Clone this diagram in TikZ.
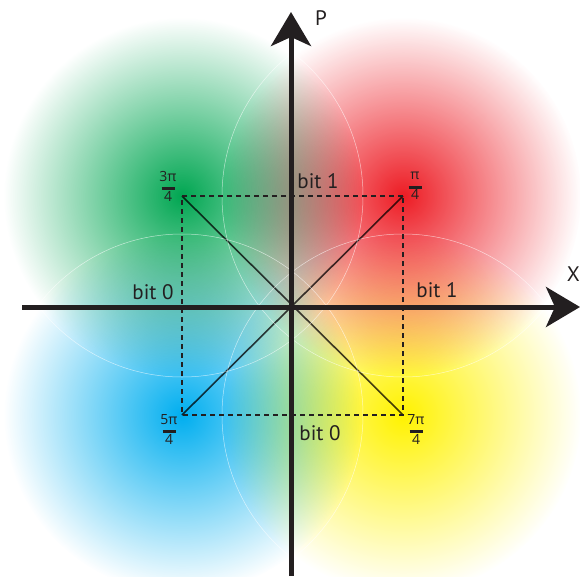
\documentclass[tikz,border=0pt]{standalone}
\usepackage{fontspec}
\setmainfont{PT Sans}
\newfontfamily\grk{Open Sans}
\usetikzlibrary{arrows.meta,fadings,positioning}

\tikzfading[name=blobfade, inner color=transparent!0, outer color=transparent!100]

\definecolor{ink}{HTML}{231F20}
\definecolor{cgreen}{HTML}{00A651}
\definecolor{cred}{HTML}{ED1C24}
\definecolor{cblue}{HTML}{00AEEF}
\definecolor{cyellow}{HTML}{FFF200}

\tikzset{
  axis/.style={line width=5pt, ink, -{Stealth[length=34pt,width=40pt,inset=9pt]}},
  gridline/.style={line width=2.2pt, ink, dash pattern=on 5pt off 4pt},
  diagline/.style={line width=1.6pt, ink!85},
  ring/.style={white, line width=0.5pt, opacity=0.6},
  bitlabel/.style={font=\fontsize{21}{23}\selectfont, text=ink, inner sep=0pt},
  phase/.style={font=\grk\fontsize{14}{14}\selectfont, text=ink, align=center, inner sep=0pt},
}
\newcommand{\phasefrac}[1]{#1\\[-5pt]\rule{13pt}{3pt}\\[-3pt]4}

\begin{document}
\begin{tikzpicture}[x=1pt,y=-1pt]
  \useasboundingbox (0,0) rectangle (580,576);

  \coordinate (o) at (291,307);
  \coordinate (q1) at (403,196);
  \coordinate (q2) at (182,196);
  \coordinate (q3) at (182,415);
  \coordinate (q4) at (403,415);

  % diagonals, under the colours
  \draw[diagline] (q1) -- (q3);
  \draw[diagline] (q2) -- (q4);

  % coloured clouds
  \begin{scope}[blend mode=multiply]
    \fill[cgreen, path fading=blobfade] (q2) circle (178);
    \fill[cred, path fading=blobfade] (q1) circle (178);
    \fill[cblue, path fading=blobfade] (q3) circle (178);
    \fill[cyellow, path fading=blobfade] (q4) circle (178);
  \end{scope}

  \draw[ring] (q1) circle (181);
  \draw[ring] (q2) circle (181);
  \draw[ring] (q3) circle (181);
  \draw[ring] (q4) circle (181);

  \draw[gridline] (q1) -- (q2) -- (q3) -- (q4) -- cycle;

  % axes
  \coordinate (xl) at (22,307);
  \coordinate (xr) at (580,307);
  \coordinate (yb) at (291,576);
  \coordinate (yt) at (291,12);
  \draw[axis] (xl) -- (xr);
  \draw[axis] (yb) -- (yt);
  \node[bitlabel] (P) at (321,18) {P};
  \node[bitlabel, anchor=east] (X) at (580,274) {X};

  \node[bitlabel] (bittop) at (318,181) {bit 1};
  \node[bitlabel] (bitleft) at (153,292) {bit 0};
  \node[bitlabel] (bitright) at (437,290) {bit 1};
  \node[bitlabel] (bitbottom) at (320,433) {bit 0};

  \node[phase] (f1) at (415,186) {\phasefrac{π}};
  \node[phase] (f3) at (168,186) {\phasefrac{3π}};
  \node[phase] (f5) at (169,429) {\phasefrac{5π}};
  \node[phase] (f7) at (416,429) {\phasefrac{7π}};
\end{tikzpicture}
\end{document}
